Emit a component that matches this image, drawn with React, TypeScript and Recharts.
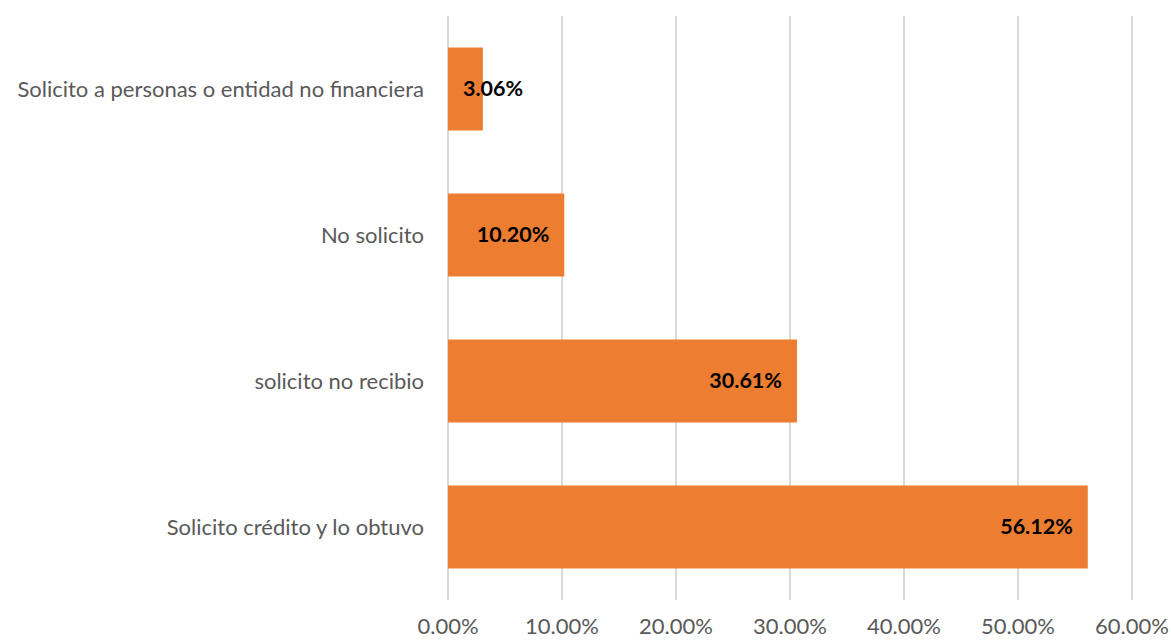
import { BarChart, Bar, XAxis, YAxis, CartesianGrid, LabelList } from 'recharts';

const categories = [
  'Solicito a personas o entidad no financiera',
  'No solicito',
  'solicito no recibio',
  'Solicito crédito y lo obtuvo',
];
const shares = [3.06, 10.2, 30.61, 56.12];
const xTicks = [0, 10, 20, 30, 40, 50, 60];

const data = categories.map((name, i) => ({ name, share: shares[i] }));

const FONT = 'Lato, "Open Sans", sans-serif';

// Excel-style "inside end" label; falls back to inside base when the bar is too short
const BarLabel = (props: any) => {
  const { x, y, width, height, value } = props;
  const text = `${Number(value).toFixed(2)}%`;
  const textW = text.length * 12;
  const fits = width > textW + 30;
  const tx = fits ? x + width - 15 : x + 15;
  return (
    <text
      x={tx}
      y={y + height / 2}
      dy="0.35em"
      textAnchor={fits ? 'end' : 'start'}
      fill="#000"
      fontWeight="bold"
      fontSize={21.5}
      fontFamily={FONT}
    >
      {text}
    </text>
  );
};

const App = () => (
  <div>
    <style>{'body{margin:0}'}</style>
    <BarChart
      width={1171}
      height={641}
      data={data}
      layout="vertical"
      margin={{ top: 16, right: 39, left: 0, bottom: 0 }}
      barCategoryGap="21.5%"
    >
      <CartesianGrid horizontal={false} stroke="#d9d9d9" strokeWidth={2} />
      <XAxis
        type="number"
        domain={[0, 60]}
        ticks={xTicks}
        tickFormatter={(v) => `${v.toFixed(2)}%`}
        axisLine={false}
        tickLine={false}
        tickSize={0}
        tickMargin={18}
        height={41}
        interval={0}
        tick={{ fill: '#595959', fontSize: 22, fontFamily: FONT }}
      />
      <YAxis
        type="category"
        dataKey="name"
        width={448}
        axisLine={false}
        tickLine={false}
        tickSize={0}
        tickMargin={24}
        interval={0}
        tick={{ fill: '#595959', fontSize: 22, fontFamily: FONT }}
      />
      <Bar dataKey="share" fill="#ED7D31" isAnimationActive={false}>
        <LabelList dataKey="share" content={BarLabel} />
      </Bar>
    </BarChart>
  </div>
);

export default App;
